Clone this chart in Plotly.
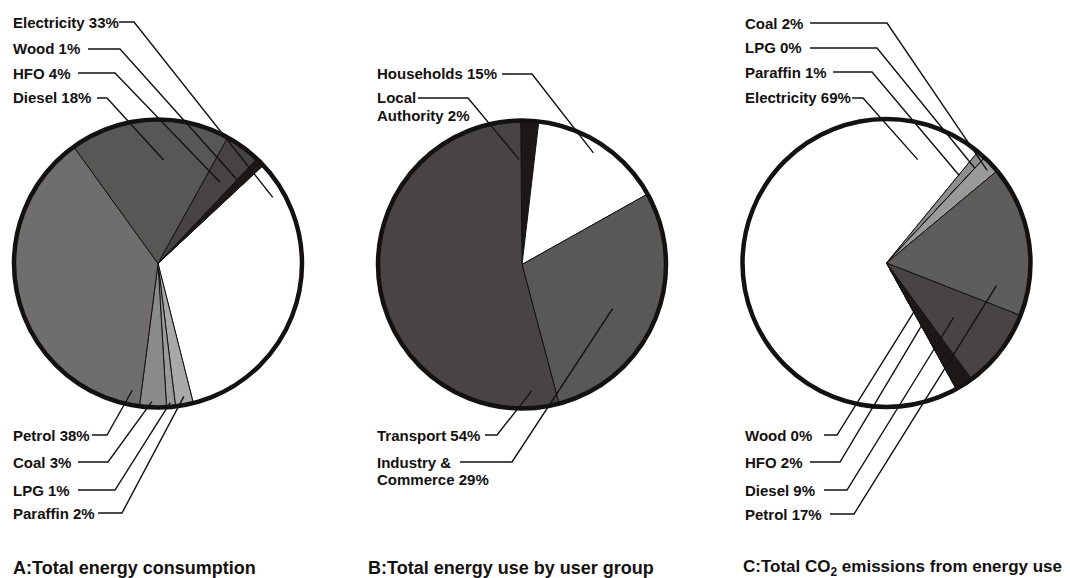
import math
import plotly.graph_objects as go

W, H = 1070, 578

# A: total energy consumption by fuel (%)
a_fuels = ["Electricity", "Paraffin", "LPG", "Coal", "Petrol", "Diesel", "HFO", "Wood"]
a_share = [33, 2, 1, 3, 38, 18, 4, 1]

# B: total energy use by user group (%)
b_groups = ["Local\nAuthority", "Households", "Industry &\nCommerce", "Transport"]
b_share = [2, 15, 29, 54]

# C: total CO2 emissions from energy use by fuel (%)
c_fuels = ["Electricity", "Paraffin", "LPG", "Coal", "Petrol", "Diesel", "HFO", "Wood"]
c_share = [69, 1, 0, 2, 17, 9, 2, 0]

titles = [
    "A:Total energy consumption",
    "B:Total energy use by user group",
    "C:Total CO<sub>2</sub> emissions from energy use",
]

# slice fills
a_colors = ["#ffffff", "#a9a9a9", "#9a9a9a", "#8a8a8a", "#6f6d6d", "#595656", "#474343", "#1c1818"]
b_colors = ["#1c1818", "#ffffff", "#5a5757", "#484444"]
c_colors = ["#ffffff", "#8e8e8e", "#959595", "#9a9a9a", "#5f5c5c", "#484444", "#1c1818", "#1c1818"]

FONT = "Arial, Liberation Sans, sans-serif"
INK = "#141111"

# label layout per slice: text x, first text line y, leader start x, leader knee x,
# position of the leader tip along the slice arc (0..1) and as a fraction of the radius
a_label_pos = {
    "Electricity": (13, 22, 119, 134, 0.11, 0.92),
    "Wood":        (13, 49, 88, 120, 0.0, 0.80),
    "HFO":         (13, 73, 78, 115, 0.58, 0.71),
    "Diesel":      (13, 98, 97, 107, 0.60, 0.72),
    "Petrol":      (13, 435, 92, 107, 0.03, 0.90),
    "Coal":        (13, 462, 78, 108, 0.55, 0.96),
    "LPG":         (13, 490, 78, 115, 0.55, 0.97),
    "Paraffin":    (13, 513, 98, 122, 0.44, 0.94),
}
b_label_pos = {
    "Households":           (377, 74, 502, 532, 0.48, 0.92),
    "Local\nAuthority":     (377, 98, 418, 468, -0.15, 0.73),
    "Transport":            (377, 435, 485, 497, 0.054, 0.88),
    "Industry &\nCommerce": (377, 462, 460, 512, 0.53, 0.70),
}
c_label_pos = {
    "Coal":        (745, 23, 810, 887, 0.61, 0.95),
    "LPG":         (745, 48, 810, 877, 0.0, 0.90),
    "Paraffin":    (745, 72, 833, 872, 0.10, 0.79),
    "Electricity": (745, 98, 852, 863, 0.909, 0.75),
    "Wood":        (745, 435, 824, 837, 0.0, 0.39),
    "HFO":         (745, 462, 810, 840, 1.0, 0.50),
    "Diesel":      (745, 490, 824, 847, 0.54, 0.60),
    "Petrol":      (745, 514, 830, 854, 0.84, 0.78),
}

panels = [
    dict(names=a_fuels, values=a_share, colors=a_colors, pos=a_label_pos,
         cx=158, cy=263.5, r=144, rot=47, title=titles[0], tx=13, tsize=18),
    dict(names=b_groups, values=b_share, colors=b_colors, pos=b_label_pos,
         cx=522, cy=264.5, r=144, rot=-0.5, title=titles[1], tx=368, tsize=18),
    dict(names=c_fuels, values=c_share, colors=c_colors, pos=c_label_pos,
         cx=886.5, cy=263, r=144, rot=151, title=titles[2], tx=743, tsize=17),
]


def fx(x):
    return x / W


def fy(y):
    return 1 - y / H


fig = go.Figure()
shapes = []
annotations = []

for p in panels:
    cx, cy, r = p["cx"], p["cy"], p["r"]
    dom = dict(x=[fx(cx - r), fx(cx + r)], y=[fy(cy + r), fy(cy - r)])
    flat = [n.replace("\n", " ") for n in p["names"]]
    fig.add_trace(go.Pie(
        labels=flat, values=p["values"], sort=False, direction="clockwise",
        rotation=p["rot"], domain=dom, textinfo="none", showlegend=False,
        marker=dict(colors=p["colors"], line=dict(color=INK, width=1)),
        hovertemplate="%{label}: %{value}%<extra></extra>",
    ))
    # heavy outer rim
    fig.add_trace(go.Pie(
        labels=["rim"], values=[1], sort=False, domain=dom, textinfo="none",
        showlegend=False, hoverinfo="skip",
        marker=dict(colors=["rgba(0,0,0,0)"], line=dict(color=INK, width=4.5)),
    ))

    total = float(sum(p["values"]))
    start = p["rot"]
    for name, val in zip(p["names"], p["values"]):
        a0 = start
        a1 = start + 360.0 * val / total
        start = a1
        tx, ty, lx, kx, frac, rad = p["pos"][name]
        theta = math.radians(a0 + frac * (a1 - a0))
        ex = cx + rad * r * math.sin(theta)
        ey = cy - rad * r * math.cos(theta)
        shapes.append(dict(
            type="path", xref="paper", yref="paper", layer="above",
            path=f"M {fx(lx)} {fy(ty)} L {fx(kx)} {fy(ty)} L {fx(ex)} {fy(ey)}",
            line=dict(color=INK, width=1.4),
        ))
        lines = f"{name} {val}%".split("\n")
        for i, txt in enumerate(lines):
            annotations.append(dict(
                xref="paper", yref="paper", x=fx(tx - 2), y=fy(ty + 17 * i),
                xanchor="left", yanchor="middle", showarrow=False, text=txt,
                font=dict(family=FONT, size=15, color=INK, weight="bold"),
            ))

    annotations.append(dict(
        xref="paper", yref="paper", x=fx(p["tx"] - 2), y=fy(568),
        xanchor="left", yanchor="middle", showarrow=False, text=p["title"],
        font=dict(family=FONT, size=p["tsize"], color=INK, weight="bold"),
    ))

fig.update_layout(
    width=W, height=H, margin=dict(l=0, r=0, t=0, b=0),
    paper_bgcolor="white", plot_bgcolor="white",
    shapes=shapes, annotations=annotations,
)

fig.write_html("out.html")
